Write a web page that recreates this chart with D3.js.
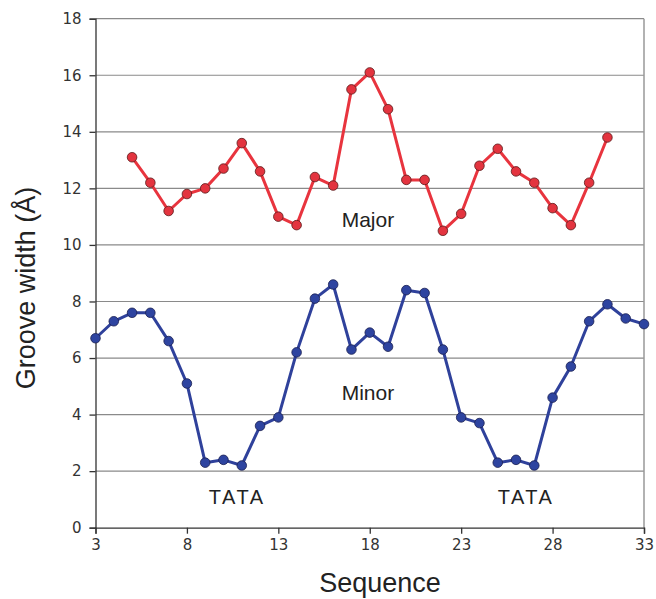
<!DOCTYPE html>
<html><head><meta charset="utf-8">
<script src="https://cdn.jsdelivr.net/npm/d3@7"></script>
<style>body{margin:0;background:#fff}</style>
</head><body>
<script>
const majorX = [5,6,7,8,9,10,11,12,13,14,15,16,17,18,19,20,21,22,23,24,25,26,27,28,29,30,31];
const majorY = [13.1,12.2,11.2,11.8,12.0,12.7,13.6,12.6,11.0,10.7,12.4,12.1,15.5,16.1,14.8,12.3,12.3,10.5,11.1,12.8,13.4,12.6,12.2,11.3,10.7,12.2,13.8];
const minorX = [3,4,5,6,7,8,9,10,11,12,13,14,15,16,17,18,19,20,21,22,23,24,25,26,27,28,29,30,31,32,33];
const minorY = [6.7,7.3,7.6,7.6,6.6,5.1,2.3,2.4,2.2,3.6,3.9,6.2,8.1,8.6,6.3,6.9,6.4,8.4,8.3,6.3,3.9,3.7,2.3,2.4,2.2,4.6,5.7,7.3,7.9,7.4,7.2];
const xTicks = [3,8,13,18,23,28,33];
const yTicks = [0,2,4,6,8,10,12,14,16,18];
const annText = ["Major","Minor","TATA","TATA"];
const annX = [17.9,17.9,10.75,26.55];
const annY = [10.64,4.52,0.84,0.84];

const W=656,H=599;
const m={l:95.5,r:12,t:18.7,b:71.3};
const svg=d3.select("body").append("svg").attr("width",W).attr("height",H);
const x=d3.scaleLinear().domain([3,33]).range([m.l,W-m.r]);
const y=d3.scaleLinear().domain([0,18]).range([H-m.b,m.t]);

svg.append("g").selectAll("line").data(yTicks.filter(d=>d>0)).join("line")
  .attr("x1",x(3)).attr("x2",x(33)).attr("y1",d=>y(d)).attr("y2",d=>y(d))
  .attr("stroke","#8a8a8a").attr("stroke-width",1.2);
svg.append("line").attr("x1",x(33)).attr("x2",x(33)).attr("y1",y(18)).attr("y2",y(0))
  .attr("stroke","#999").attr("stroke-width",1.5);

const ya=svg.append("g").attr("transform",`translate(${x(3)},0)`)
  .call(d3.axisLeft(y).tickValues(yTicks).tickSize(6).tickPadding(8));
const xa=svg.append("g").attr("transform",`translate(0,${y(0)})`)
  .call(d3.axisBottom(x).tickValues(xTicks).tickSize(6).tickPadding(6));
[ya,xa].forEach(a=>{
  a.selectAll("path,line").attr("stroke","#333").attr("stroke-width",1.3);
  a.selectAll("text").attr("font-family","DejaVu Sans, Verdana, sans-serif").attr("font-size",15).attr("fill","#333");
});

const line=d3.line().x(d=>x(d[0])).y(d=>y(d[1]));
const maj=majorX.map((v,i)=>[v,majorY[i]]);
const min=minorX.map((v,i)=>[v,minorY[i]]);
svg.append("path").datum(maj).attr("d",line).attr("fill","none").attr("stroke","#e8343e").attr("stroke-width",3).attr("stroke-linejoin","round");
svg.append("path").datum(min).attr("d",line).attr("fill","none").attr("stroke","#2f419b").attr("stroke-width",3).attr("stroke-linejoin","round");
svg.append("g").selectAll("circle").data(maj).join("circle")
  .attr("cx",d=>x(d[0])).attr("cy",d=>y(d[1])).attr("r",4.8)
  .attr("fill","#e3343f").attr("stroke","#5a1a1a").attr("stroke-width",0.8);
svg.append("g").selectAll("circle").data(min).join("circle")
  .attr("cx",d=>x(d[0])).attr("cy",d=>y(d[1])).attr("r",4.8)
  .attr("fill","#2e44a0").attr("stroke","#1a2050").attr("stroke-width",0.8);

svg.append("g").selectAll("text").data(annText).join("text")
  .attr("x",(d,i)=>x(annX[i])).attr("y",(d,i)=>y(annY[i]))
  .attr("text-anchor","middle").attr("font-family","Liberation Sans, Arial, sans-serif")
  .attr("font-size",(d)=>d==="TATA"?20:21).attr("letter-spacing",d=>d==="TATA"?"2.5px":"0px")
  .attr("fill","#222").text(d=>d);

svg.append("text").attr("x",380).attr("y",592).attr("text-anchor","middle")
  .attr("font-family","Liberation Sans, Arial, sans-serif").attr("font-size",27).attr("fill","#222").text("Sequence");
svg.append("text").attr("transform","translate(35,288) rotate(-90)").attr("text-anchor","middle")
  .attr("font-family","Liberation Sans, Arial, sans-serif").attr("font-size",27).attr("fill","#222").text("Groove width (Å)");
</script>
</body></html>
